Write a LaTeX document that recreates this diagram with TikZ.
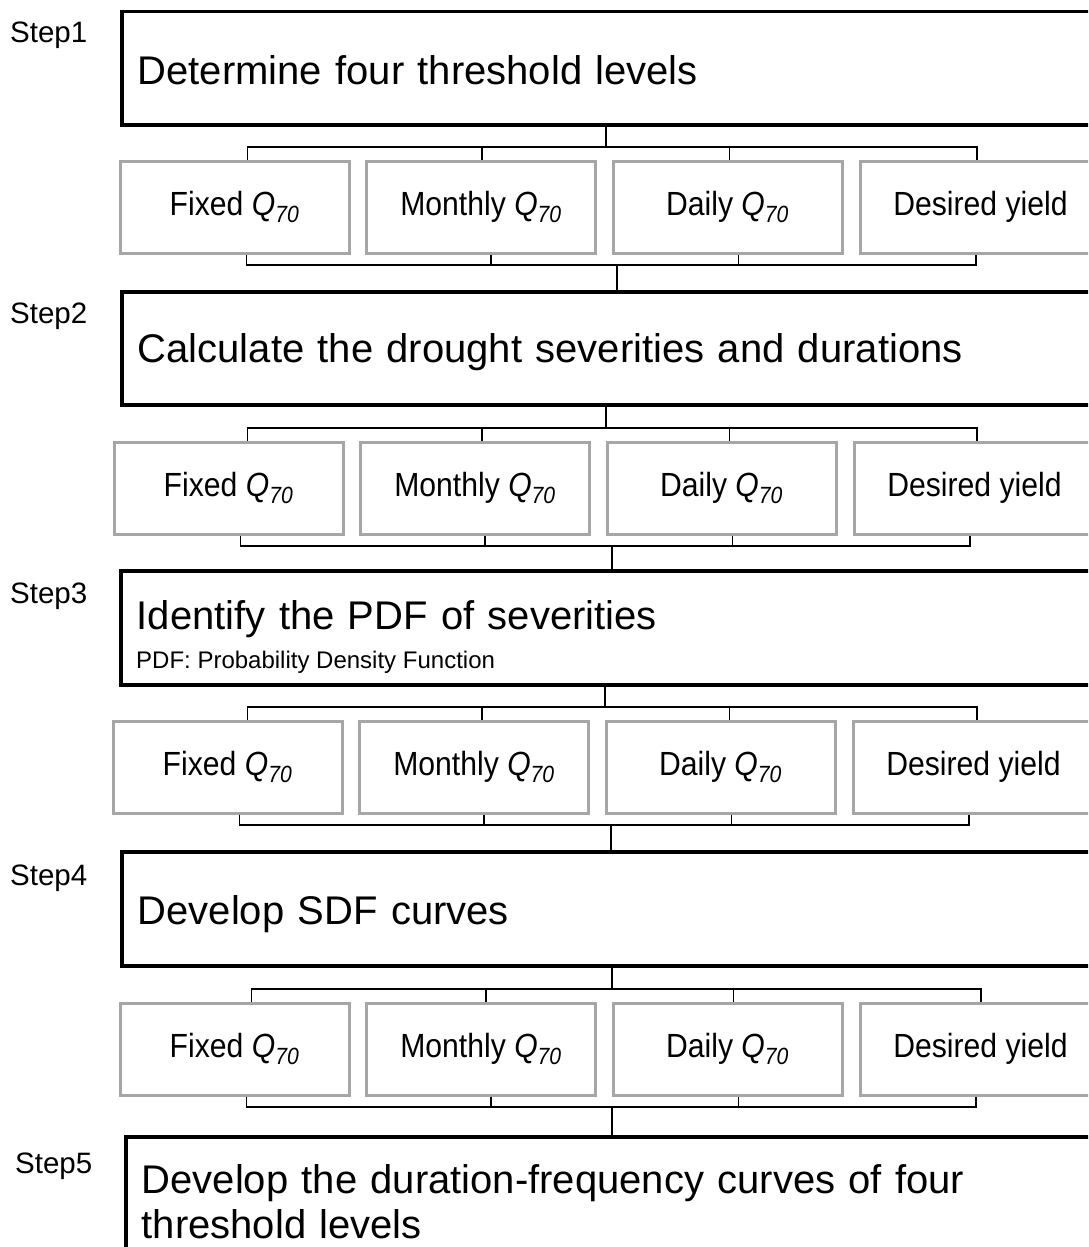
\documentclass[tikz,border=0pt]{standalone}
\usepackage{fontspec}
\setmainfont{Liberation Sans}
\newfontfamily\narrowfont[FakeStretch=0.9]{Liberation Sans}
\usetikzlibrary{positioning}

\newcommand{\qsev}{\textit{Q}\textsubscript{\textit{70}}}

\tikzset{
 stepbox/.style={draw=black, line width=3.5pt, anchor=north west, text width=1000pt, inner xsep=16pt, inner ysep=0pt, align=left, font=\fontsize{40}{45}\selectfont},
 steplabel/.style={anchor=base west, inner sep=0pt, font=\fontsize{29.5}{33}\selectfont},
 levelbox/.style={draw=black!35, line width=3pt, minimum width=229pt, minimum height=92pt, inner sep=0pt, font=\narrowfont\fontsize{33.5}{37}\selectfont},
 link/.style={black, line width=1.6pt},
}

\begin{document}
\begin{tikzpicture}[x=1pt, y=-1pt]
\useasboundingbox (0,0) rectangle (1088,1247);
\clip (0,0) rectangle (1088,1247);

% steps
\node[stepbox, text height=73pt, text depth=40pt] (s1) at (120,10) {Determine four threshold levels};
\node[stepbox, text height=71pt, text depth=42pt] (s2) at (120,290) {Calculate the drought severities and durations};
\node[stepbox, text height=59pt, text depth=55pt] (s3) at (119,569) {Identify the PDF of severities};
\node[stepbox, text height=73pt, text depth=41pt] (s4) at (120,850) {Develop SDF curves};
\node[stepbox, minimum height=130pt] (s5) at (124,1135) {Develop the duration-frequency curves of four\\threshold levels};
\node[anchor=base west, inner sep=0pt, font=\fontsize{24}{26}\selectfont] (s3note) at (136,668) {PDF: Probability Density Function};

\node[steplabel] (l1) at (10,43) {Step1};
\node[steplabel] (l2) at (10,323) {Step2};
\node[steplabel] (l3) at (10,603) {Step3};
\node[steplabel] (l4) at (10,885) {Step4};
\node[steplabel] (l5) at (15,1173) {Step5};

% threshold levels between the steps
\foreach \r/\yy/\dx/\tx/\ts/\bs in {1/207/0/0/606/617, 2/488/-6/6/606/612, 3/767/-7/7/605/611, 4/1049/0/4/612/612} {
 \node[levelbox] (f\r) at (234.5+\dx,\yy) {Fixed \qsev};
 \node[levelbox] (m\r) at (481+\dx,\yy) {Monthly \qsev};
 \node[levelbox] (d\r) at (727.5+\dx,\yy) {Daily \qsev};
 \node[levelbox, minimum width=240pt] (y\r) at (980.5+\dx,\yy) {Desired yield};
 % upper bracket
 \coordinate (t\r) at (\ts,\yy-60);
 \draw[link] ([xshift=\tx pt+13pt]f\r.north) |- (t\r) -| ([xshift=\tx pt-3.5pt]y\r.north);
 \draw[link] ([xshift=\tx pt+1pt]m\r.north) -- ([xshift=\tx pt+1pt]m\r.north |- t\r);
 \draw[link] ([xshift=\tx pt+2pt]d\r.north) -- ([xshift=\tx pt+2pt]d\r.north |- t\r);
 % lower bracket
 \coordinate (b\r) at (\bs,\yy+58);
 \draw[link] ([xshift=12pt]f\r.south) |- (b\r) -| ([xshift=-4.5pt]y\r.south);
 \draw[link] ([xshift=10pt]m\r.south) -- ([xshift=10pt]m\r.south |- b\r);
 \draw[link] ([xshift=11pt]d\r.south) -- ([xshift=11pt]d\r.south |- b\r);
}

% stems
\draw[link] (t1) -- (t1 |- s1.south);
\draw[link] (b1) -- (b1 |- s2.north);
\draw[link] (t2) -- (t2 |- s2.south);
\draw[link] (b2) -- (b2 |- s3.north);
\draw[link] (t3) -- (t3 |- s3.south);
\draw[link] (b3) -- (b3 |- s4.north);
\draw[link] (t4) -- (t4 |- s4.south);
\draw[link] (b4) -- (b4 |- s5.north);
\end{tikzpicture}
\end{document}
